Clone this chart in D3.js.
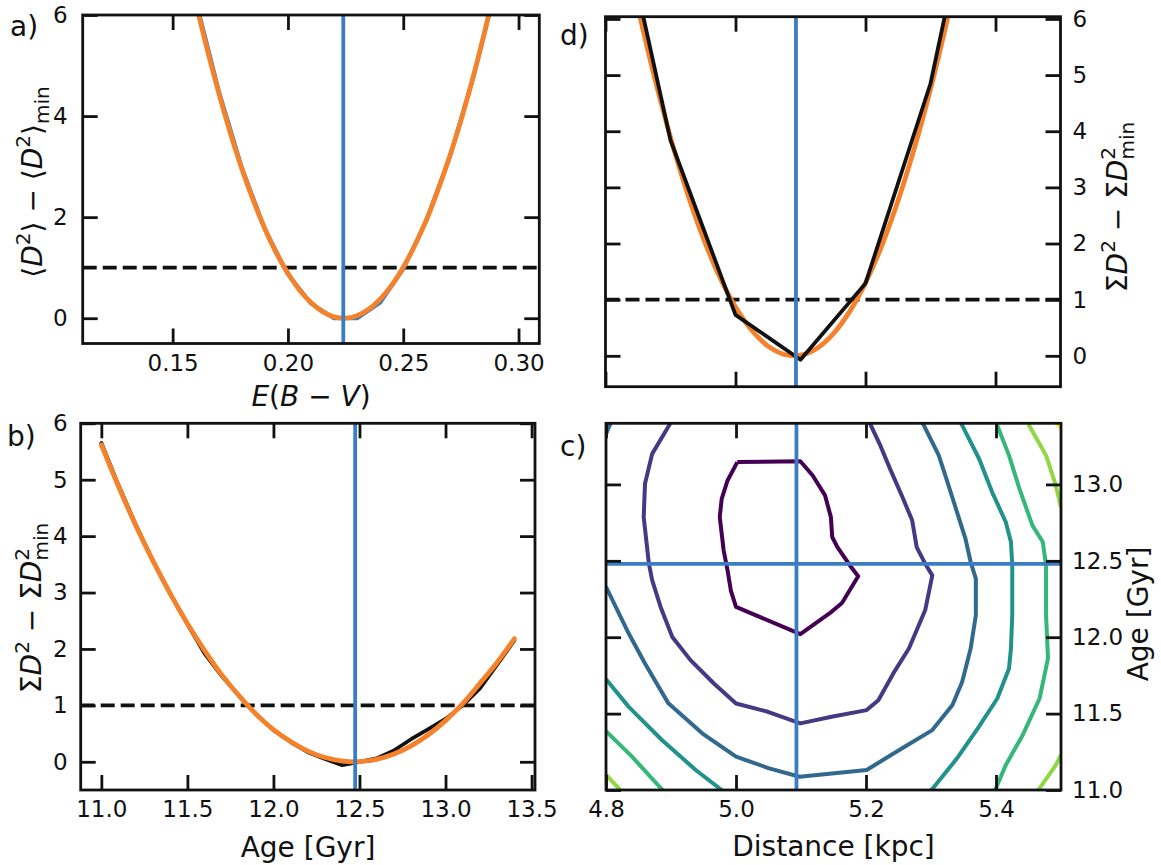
<!DOCTYPE html>
<html>
<head>
<meta charset="utf-8">
<script src="https://cdn.jsdelivr.net/npm/d3@7"></script>
<style>
  html, body { margin: 0; padding: 0; background: #fff; }
  svg { display: block; font-family: "DejaVu Sans", sans-serif; }
</style>
</head>
<body>
<script>
// ---------- panel a: E(B-V) scan ----------
var ebvGrid = [0.15, 0.16, 0.17, 0.18, 0.19, 0.20, 0.21, 0.22, 0.23, 0.24, 0.25, 0.26, 0.27, 0.28, 0.29, 0.30];
var ebvChi = [8.4, 6.3, 4.5, 2.98, 1.76, 0.87, 0.29, 0.0, 0.0, 0.31, 0.97, 1.93, 3.17, 4.70, 6.5, 8.7];
var ebvFitX = [0.150, 0.155, 0.160, 0.165, 0.170, 0.175, 0.180, 0.185, 0.190, 0.195, 0.200, 0.205, 0.210, 0.215,
  0.220, 0.225, 0.230, 0.235, 0.240, 0.245, 0.250, 0.255, 0.260, 0.265, 0.270, 0.275, 0.280, 0.285, 0.290, 0.295, 0.300];
var ebvFitY = [8.35, 7.26, 6.25, 5.32, 4.46, 3.67, 2.96, 2.33, 1.77, 1.29, 0.89, 0.56, 0.31, 0.13,
  0.027, 0.001, 0.051, 0.177, 0.379, 0.656, 1.01, 1.44, 1.94, 2.53, 3.18, 3.91, 4.72, 5.61, 6.57, 7.60, 8.71];
var ebvBest = 0.224;

// ---------- panel b: age scan ----------
var ageGrid = [11.0, 11.1, 11.2, 11.3, 11.4, 11.5, 11.6, 11.7, 11.8, 11.9, 12.0, 12.1, 12.2,
  12.3, 12.4, 12.5, 12.6, 12.7, 12.8, 12.9, 13.0, 13.1, 13.2, 13.3, 13.4];
var ageChi = [5.65, 4.9, 4.2, 3.56, 2.98, 2.44, 1.92, 1.52, 1.17, 0.84, 0.56, 0.35, 0.17,
  0.05, -0.06, 0.0, 0.06, 0.2, 0.4, 0.58, 0.76, 1.0, 1.3, 1.72, 2.15];
var ageFit = [5.62, 4.88, 4.19, 3.56, 2.98, 2.45, 1.97, 1.54, 1.17, 0.84, 0.57, 0.36, 0.19,
  0.075, 0.013, 0.002, 0.044, 0.138, 0.283, 0.48, 0.73, 1.03, 1.39, 1.76, 2.18];
var ageBest = 12.475;

// ---------- panel d: distance scan ----------
var distGrid = [4.8, 4.9, 5.0, 5.1, 5.2, 5.3, 5.4];
var distChi = [9.1, 3.84, 0.73, -0.07, 1.29, 4.85, 10.3];
var distFitX = [4.825, 4.850, 4.875, 4.900, 4.925, 4.950, 4.975, 5.000, 5.025, 5.050, 5.075, 5.100,
  5.125, 5.150, 5.175, 5.200, 5.225, 5.250, 5.275, 5.300, 5.325, 5.350];
var distFitY = [7.56, 6.20, 4.98, 3.89, 2.93, 2.11, 1.42, 0.87, 0.455, 0.172, 0.024, 0.011,
  0.132, 0.388, 0.778, 1.30, 1.96, 2.76, 3.69, 4.75, 5.95, 7.28];
var distBest = 5.093;

// ---------- panel c: contour lines, [distance, age] ----------
var contour1 = [[5.002,13.146],[5.099,13.152],[5.118,13.058],[5.137,12.928],[5.146,12.786],[5.148,12.656],
  [5.156,12.590],[5.175,12.471],[5.188,12.399],[5.163,12.224],[5.147,12.166],[5.099,12.020],[5.000,12.198],
  [4.992,12.307],[4.987,12.438],[4.981,12.569],[4.975,12.786],[4.978,12.906],[4.987,13.026],[5.002,13.146]];
var contour2 = [[4.899,13.4],[4.871,13.200],[4.860,13.004],[4.858,12.786],[4.866,12.481],[4.871,12.373],
  [4.884,12.198],[4.902,12.002],[4.930,11.850],[4.966,11.697],[5.000,11.566],[5.049,11.512],[5.099,11.436],
  [5.147,11.479],[5.201,11.523],[5.219,11.588],[5.242,11.763],[5.266,11.926],[5.291,12.176],[5.302,12.405],
  [5.291,12.481],[5.278,12.590],[5.271,12.765],[5.255,12.928],[5.237,13.102],[5.222,13.255],[5.206,13.4]];
var contour3a = [[4.8,13.33],[4.807,13.4]];
var contour3 = [[4.8,12.33],[4.835,12.024],[4.860,11.828],[4.896,11.567],[4.948,11.371],[5.0,11.218],
  [5.051,11.142],[5.098,11.087],[5.201,11.131],[5.255,11.272],[5.302,11.392],[5.333,11.556],[5.348,11.708],
  [5.361,11.926],[5.369,12.144],[5.369,12.384],[5.361,12.492],[5.353,12.645],[5.340,12.819],[5.327,12.993],
  [5.312,13.190],[5.289,13.386],[5.287,13.4]];
var contour4a = [[4.8,11.725],[4.835,11.544],[4.886,11.327],[4.938,11.131],[4.978,11.0]];
var contour4b = [[5.300,11.0],[5.303,11.011],[5.340,11.207],[5.372,11.403],[5.402,11.599],[5.420,11.795],
  [5.423,11.926],[5.425,12.144],[5.425,12.471],[5.423,12.623],[5.415,12.754],[5.394,12.950],[5.374,13.168],
  [5.348,13.386],[5.346,13.4]];
var contour5a = [[4.8,11.385],[4.840,11.218],[4.887,11.0]];
var contour5b = [[5.398,11.0],[5.400,11.011],[5.415,11.163],[5.441,11.359],[5.467,11.599],[5.480,11.861],
  [5.477,12.144],[5.477,12.471],[5.472,12.623],[5.456,12.732],[5.436,12.972],[5.420,13.190],[5.402,13.386],[5.401,13.4]];
var contour6a = [[4.8,11.10],[4.822,11.0]];
var contour6b = [[5.450,13.4],[5.451,13.386],[5.477,13.190],[5.492,12.993],[5.5,12.85]];
var contour6c = [[5.465,11.0],[5.467,11.011],[5.492,11.163],[5.5,11.23]];
var contour7 = [[5.493,13.4],[5.5,13.37]];
var contourLines = [
  { level: 0, pts: contour1 }, { level: 1, pts: contour2 },
  { level: 2, pts: contour3a }, { level: 2, pts: contour3 },
  { level: 3, pts: contour4a }, { level: 3, pts: contour4b },
  { level: 4, pts: contour5a }, { level: 4, pts: contour5b },
  { level: 5, pts: contour6a }, { level: 5, pts: contour6b }, { level: 5, pts: contour6c },
  { level: 6, pts: contour7 }
];
var bestDist = 5.093, bestAge = 12.48;

var BLUE = "#3a7dc4";
var ORANGE = "#f5822a";
var TICK = 15;
var TICKFONT = 23;
var LABELFONT = 28;

var svg = d3.select("body").append("svg").attr("width", 1161).attr("height", 865);

function makePanel(id, box, xDomain, yDomain) {
  var x = d3.scaleLinear().domain(xDomain).range([box.x0, box.x1]);
  var y = d3.scaleLinear().domain(yDomain).range([box.y1, box.y0]);
  svg.append("clipPath").attr("id", "clip-" + id)
    .append("rect")
    .attr("x", box.x0).attr("y", box.y0)
    .attr("width", box.x1 - box.x0).attr("height", box.y1 - box.y0);
  var g = svg.append("g");
  var plot = g.append("g").attr("clip-path", "url(#clip-" + id + ")");
  return { x: x, y: y, g: g, plot: plot, box: box };
}

function styleAxis(sel) {
  sel.select(".domain").remove();
  sel.selectAll(".tick line").attr("stroke", "#111").attr("stroke-width", 2.8);
  sel.selectAll(".tick text").attr("fill", "#111").style("font-size", TICKFONT + "px")
    .style("font-family", "DejaVu Sans");
}

function drawAxes(p, o) {
  var b = p.box;
  var fx = o.xLabels ? d3.format(o.xFmt) : function () { return ""; };
  var fy = d3.format(o.yFmt);
  var none = function () { return ""; };

  p.g.append("g").attr("transform", "translate(0," + b.y1 + ")")
    .call(d3.axisBottom(p.x).tickValues(o.xTicks).tickSize(-TICK).tickPadding(11).tickFormat(fx))
    .call(styleAxis);
  p.g.append("g").attr("transform", "translate(0," + b.y0 + ")")
    .call(d3.axisTop(p.x).tickValues(o.xTicks).tickSize(-TICK).tickFormat(none))
    .call(styleAxis);
  p.g.append("g").attr("transform", "translate(" + b.x0 + ",0)")
    .call(d3.axisLeft(p.y).tickValues(o.yTicks).tickSize(-TICK).tickPadding(o.yPad)
      .tickFormat(o.ySide === "left" ? fy : none))
    .call(styleAxis);
  p.g.append("g").attr("transform", "translate(" + b.x1 + ",0)")
    .call(d3.axisRight(p.y).tickValues(o.yTicks).tickSize(-TICK).tickPadding(o.yPad)
      .tickFormat(o.ySide === "right" ? fy : none))
    .call(styleAxis);

  p.g.append("rect")
    .attr("x", b.x0).attr("y", b.y0)
    .attr("width", b.x1 - b.x0).attr("height", b.y1 - b.y0)
    .attr("fill", "none").attr("stroke", "#111").attr("stroke-width", 2.8);
}

function hline(p, v) {
  p.plot.append("line")
    .attr("x1", p.box.x0).attr("x2", p.box.x1)
    .attr("y1", p.y(v)).attr("y2", p.y(v))
    .attr("stroke", "#111").attr("stroke-width", 3.8).attr("stroke-dasharray", "14,6");
}

function vline(p, v, color) {
  p.plot.append("line")
    .attr("x1", p.x(v)).attr("x2", p.x(v))
    .attr("y1", p.box.y0).attr("y2", p.box.y1)
    .attr("stroke", color).attr("stroke-width", 3.8);
}

function curve(p, xs, ys, color, width, smooth) {
  var line = d3.line()
    .x(function (d) { return p.x(d[0]); })
    .y(function (d) { return p.y(d[1]); })
    .curve(smooth ? d3.curveCatmullRom : d3.curveLinear);
  p.plot.append("path")
    .datum(d3.zip(xs, ys))
    .attr("d", line)
    .attr("fill", "none").attr("stroke", color).attr("stroke-width", width)
    .attr("stroke-linejoin", "round").attr("stroke-linecap", "round");
}

// math-ish label built from tspans
function richText(sel, parts) {
  parts.forEach(function (pt) {
    var t = sel.append("tspan").text(pt.t);
    if (pt.it) t.style("font-style", "italic");
    if (pt.size) t.style("font-size", pt.size + "px");
    if (pt.dy) t.attr("dy", pt.dy);
    if (pt.dx) t.attr("dx", pt.dx);
  });
}

function textAt(x, y, rot, anchor) {
  return svg.append("text")
    .attr("transform", "translate(" + x + "," + y + ")" + (rot ? " rotate(" + rot + ")" : ""))
    .attr("text-anchor", anchor || "middle")
    .attr("fill", "#111")
    .style("font-size", LABELFONT + "px");
}

var SUP = 20;
var sumLabel = [
  { t: "\u03A3" }, { t: "D", it: true }, { t: "2", size: SUP, dy: -12 },
  { t: " \u2212 \u03A3", size: LABELFONT, dy: 12 }, { t: "D", it: true },
  { t: "2", size: SUP, dy: -12 }, { t: "min", size: SUP, dx: -12.7, dy: 19 }
];

// ---------- panel a ----------
var pa = makePanel("a", { x0: 82.7, x1: 539.3, y0: 15, y1: 343.5 }, [0.111, 0.309], [-0.5, 6]);
hline(pa, 1);
curve(pa, ebvGrid, ebvChi, BLUE, 4, false);
curve(pa, ebvFitX, ebvFitY, ORANGE, 4.8, true);
vline(pa, ebvBest, BLUE);
drawAxes(pa, { xTicks: [0.15, 0.20, 0.25, 0.30], xFmt: ".2f", xLabels: true,
  yTicks: [0, 2, 4, 6], yFmt: "d", ySide: "left", yPad: 15 });

// ---------- panel b ----------
var pb = makePanel("b", { x0: 80.7, x1: 535, y0: 423.3, y1: 790 }, [10.88, 13.52], [-0.5, 6]);
hline(pb, 1);
curve(pb, ageGrid, ageChi, "#111", 3.8, false);
curve(pb, ageGrid, ageFit, ORANGE, 4.8, true);
vline(pb, ageBest, BLUE);
drawAxes(pb, { xTicks: [11.0, 11.5, 12.0, 12.5, 13.0, 13.5], xFmt: ".1f", xLabels: true,
  yTicks: [0, 1, 2, 3, 4, 5, 6], yFmt: "d", ySide: "left", yPad: 13 });

// ---------- panel d ----------
var pd = makePanel("d", { x0: 605.5, x1: 1060.5, y0: 16.7, y1: 386.7 }, [4.8, 5.5], [-0.55, 6.04]);
hline(pd, 1);
curve(pd, distFitX, distFitY, ORANGE, 4.8, true);
curve(pd, distGrid, distChi, "#111", 3.8, false);
vline(pd, distBest, BLUE);
drawAxes(pd, { xTicks: [4.8, 5.0, 5.2, 5.4], xFmt: ".1f", xLabels: false,
  yTicks: [0, 1, 2, 3, 4, 5, 6], yFmt: "d", ySide: "right", yPad: 12 });

// ---------- panel c ----------
var pc = makePanel("c", { x0: 606, x1: 1061, y0: 423.3, y1: 790 }, [4.8, 5.5], [11.0, 13.4]);
var cline = d3.line()
  .x(function (d) { return pc.x(d[0]); })
  .y(function (d) { return pc.y(d[1]); });
pc.plot.selectAll("path.contour")
  .data(contourLines)
  .enter().append("path")
  .attr("class", "contour")
  .attr("d", function (d) { return cline(d.pts); })
  .attr("fill", "none")
  .attr("stroke", function (d) { return d3.interpolateViridis(d.level / 6); })
  .attr("stroke-width", 4)
  .attr("stroke-linejoin", "round");
vline(pc, bestDist, BLUE);
pc.plot.append("line")
  .attr("x1", pc.box.x0).attr("x2", pc.box.x1)
  .attr("y1", pc.y(bestAge)).attr("y2", pc.y(bestAge))
  .attr("stroke", BLUE).attr("stroke-width", 3.8);
drawAxes(pc, { xTicks: [4.8, 5.0, 5.2, 5.4], xFmt: ".1f", xLabels: true,
  yTicks: [11.0, 11.5, 12.0, 12.5, 13.0], yFmt: ".1f", ySide: "right", yPad: 11 });

// ---------- axis labels ----------
richText(textAt(311, 406), [
  { t: "E", it: true }, { t: "(" }, { t: "B", it: true }, { t: " \u2212 " }, { t: "V", it: true }, { t: ")" }
]);
textAt(308, 857).text("Age [Gyr]");
textAt(833.5, 856).text("Distance [kpc]");

richText(textAt(42, 182, -90), [
  { t: "\u27E8" }, { t: "D", it: true }, { t: "2", size: SUP, dy: -12 },
  { t: "\u27E9 \u2212 \u27E8", size: LABELFONT, dy: 12 }, { t: "D", it: true },
  { t: "2", size: SUP, dy: -12 }, { t: "\u27E9", size: LABELFONT, dy: 12 },
  { t: "min", size: SUP, dy: 7 }
]);
richText(textAt(41, 608, -90), sumLabel);
richText(textAt(1127, 207, -90), sumLabel);
textAt(1148, 614, -90).text("Age [Gyr]");

// ---------- panel letters ----------
textAt(10, 36, 0, "start").text("a)");
textAt(7, 446, 0, "start").text("b)");
textAt(560, 45, 0, "start").text("d)");
textAt(560, 456, 0, "start").text("c)");
</script>
</body>
</html>
